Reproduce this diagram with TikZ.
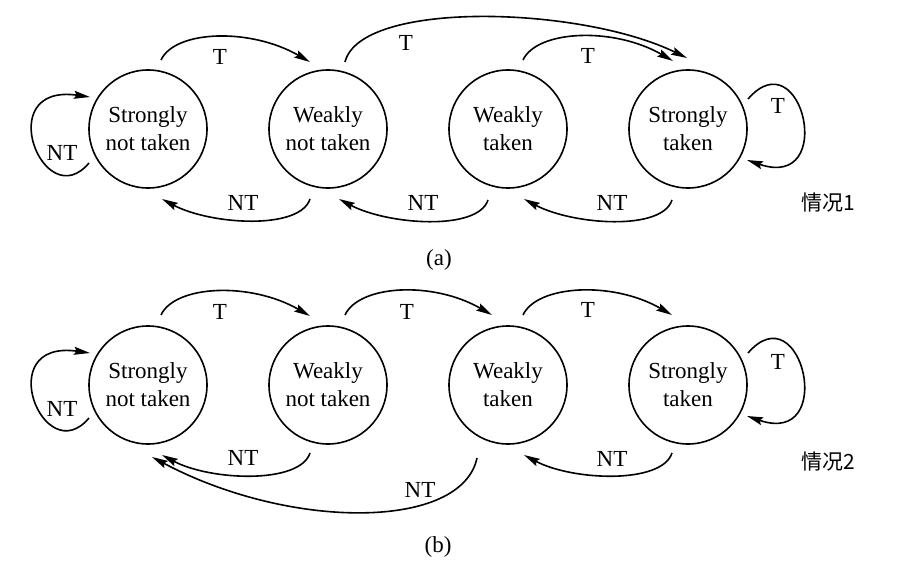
\documentclass[tikz,border=0pt]{standalone}
\usepackage{fontspec}
\setmainfont{Liberation Serif}
\newfontfamily\cjk{Noto Sans CJK SC}
\usetikzlibrary{arrows.meta}
\begin{document}
\begin{tikzpicture}[x=1pt,y=1pt,
  state/.style={circle,draw,line width=1.6pt,minimum size=118pt,inner sep=0pt,
    align=center,font=\fontsize{23}{28}\selectfont},
  arr/.style={line width=1.6pt,-{Stealth[length=16pt,width=8pt,inset=2.5pt]}},
  lab/.style={font=\fontsize{23}{28}\selectfont,inner sep=0pt},
  cj/.style={font=\fontsize{21}{25}\cjk,inner sep=0pt},
  fwd/.style={out=65,in=150,out distance=33pt,in distance=69pt},
  back/.style={out=252,in=-28,out distance=33pt,in distance=55pt},
  loopr/.style={out=49,in=-19,out distance=82pt,in distance=96pt},
  loopl/.style={out=230,in=172,out distance=70pt,in distance=100pt}]
\useasboundingbox (0,0) rectangle (898,-578);

% ---------- case 1 ----------
\node[state] (a1) at (148,-129) {Strongly\\not taken};
\node[state] (a2) at (328,-129) {Weakly\\not taken};
\node[state] (a3) at (508,-129) {Weakly\\taken};
\node[state] (a4) at (688,-129) {Strongly\\taken};

\draw[arr] ([shift={(13,69)}]a1.center) to[fwd] ([shift={(-18,67)}]a2.center);
\draw[arr] ([shift={(17,67)}]a2.center)
  to[out=76,in=154,out distance=64pt,in distance=119pt] ([shift={(-1,71)}]a4.center);
\draw[arr] ([shift={(15,69)}]a3.center) to[fwd] ([shift={(-15,68)}]a4.center);
\draw[arr] ([shift={(60,30)}]a4.center) to[loopr] ([shift={(59,-31)}]a4.center);
\draw[arr] ([shift={(-59,-34)}]a1.center) to[loopl] ([shift={(-58,32)}]a1.center);
\draw[arr] ([shift={(-18,-70)}]a2.center) to[back] ([shift={(14,-70)}]a1.center);
\draw[arr] ([shift={(-20,-71)}]a3.center) to[back] ([shift={(11,-70)}]a2.center);
\draw[arr] ([shift={(-16,-71)}]a4.center) to[back] ([shift={(16,-70)}]a3.center);

\node[lab] (ta12) at (220,-57) {T};
\node[lab] (ta24) at (406,-43) {T};
\node[lab] (ta34) at (588,-56) {T};
\node[lab] (ta44) at (778,-106) {T};
\node[lab] (na11) at (62,-153) {NT};
\node[lab] (na21) at (243,-203) {NT};
\node[lab] (na32) at (423,-203) {NT};
\node[lab] (na43) at (612,-203) {NT};
\node[cj]  (casea) at (828,-203) {情况1};
\node[lab] (capa) at (439,-260) {(a)};

% ---------- case 2 ----------
\node[state] (b1) at (148,-385) {Strongly\\not taken};
\node[state] (b2) at (328,-385) {Weakly\\not taken};
\node[state] (b3) at (508,-385) {Weakly\\taken};
\node[state] (b4) at (688,-385) {Strongly\\taken};

\draw[arr] ([shift={(13,70)}]b1.center) to[fwd] ([shift={(-18,69)}]b2.center);
\draw[arr] ([shift={(17,70)}]b2.center) to[fwd] ([shift={(-16,70)}]b3.center);
\draw[arr] ([shift={(15,70)}]b3.center) to[fwd] ([shift={(-16,70)}]b4.center);
\draw[arr] ([shift={(60,32)}]b4.center) to[loopr] ([shift={(59,-31)}]b4.center);
\draw[arr] ([shift={(-59,-33)}]b1.center) to[loopl] ([shift={(-58,32)}]b1.center);
\draw[arr] ([shift={(-18,-68)}]b2.center) to[back] ([shift={(14,-70)}]b1.center);
\draw[arr] ([shift={(-31,-73)}]b3.center)
  to[out=258,in=-28,out distance=74pt,in distance=156pt] ([shift={(4,-72)}]b1.center);
\draw[arr] ([shift={(-16,-68)}]b4.center) to[back] ([shift={(16,-70)}]b3.center);

\node[lab] (tb12) at (220,-312) {T};
\node[lab] (tb23) at (407,-312) {T};
\node[lab] (tb34) at (588,-310) {T};
\node[lab] (tb44) at (778,-362) {T};
\node[lab] (nb11) at (62,-409) {NT};
\node[lab] (nb21) at (243,-458) {NT};
\node[lab] (nb31) at (420,-490) {NT};
\node[lab] (nb43) at (612,-459) {NT};
\node[cj]  (caseb) at (828,-462) {情况2};
\node[lab] (capb) at (438,-547) {(b)};
\end{tikzpicture}
\end{document}
